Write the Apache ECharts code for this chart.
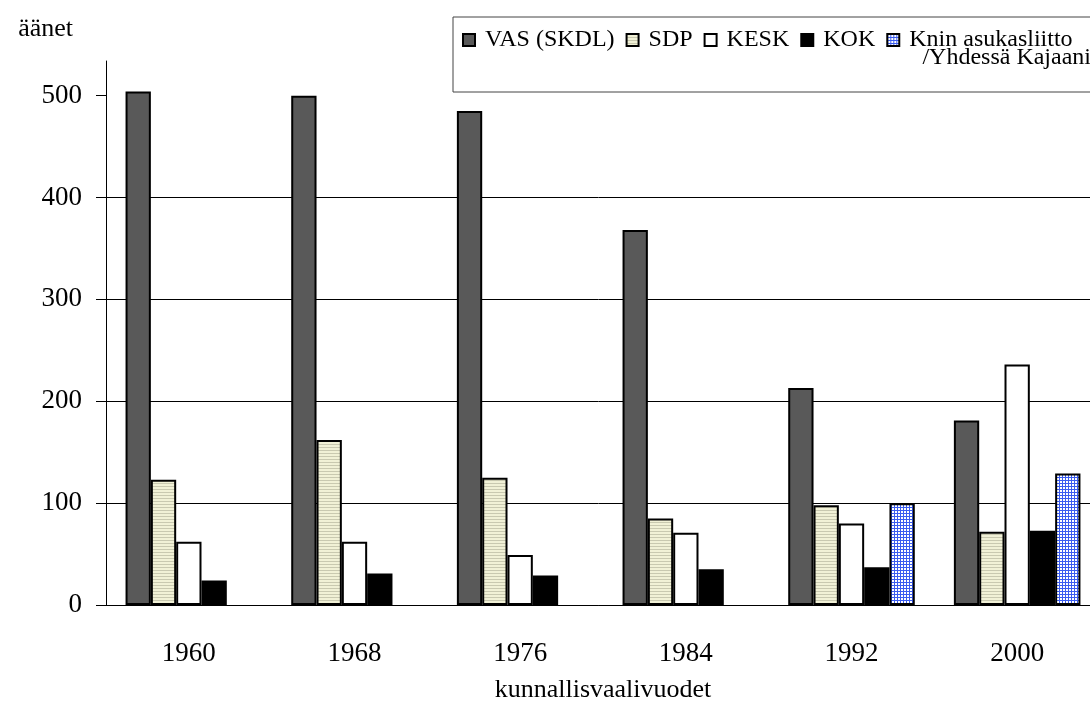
<!DOCTYPE html>
<html>
<head>
<meta charset="utf-8">
<script src="https://cdn.jsdelivr.net/npm/echarts@6/dist/echarts.min.js"></script>
<style>
  html, body { margin: 0; padding: 0; background: #fff; }
  #chart { width: 1090px; height: 706px; }
</style>
</head>
<body>
<div id="chart"></div>
<script>
const years = ['1960', '1968', '1976', '1984', '1992', '2000'];
const vas = [504, 500, 485, 368, 213, 181];
const sdp = [123, 162, 125, 85, 98, 72];
const kesk = [62, 62, 49, 71, 80, 236];
const kok = [24, 31, 29, 35, 37, 73];
const knin = [null, null, null, null, 100, 129];
const yTicks = [0, 100, 200, 300, 400, 500];

// small canvas fills for the patterned bars
function makePattern(w, h, draw) {
  const c = document.createElement('canvas');
  c.width = w; c.height = h;
  draw(c.getContext('2d'));
  return { image: c, repeat: 'repeat' };
}
const stripes = makePattern(4, 3, ctx => {
  ctx.fillStyle = '#f1f1d6'; ctx.fillRect(0, 0, 4, 3);
  ctx.fillStyle = '#c9c9b0'; ctx.fillRect(0, 0, 4, 1);
});
const blueGrid = makePattern(3, 3, ctx => {
  ctx.fillStyle = '#ffffff'; ctx.fillRect(0, 0, 3, 3);
  ctx.fillStyle = '#3a5cf0'; ctx.fillRect(0, 0, 3, 1); ctx.fillRect(0, 0, 1, 3);
});

const serif = 'Liberation Serif';
const chart = echarts.init(document.getElementById('chart'));

function bar(name, data, color) {
  return {
    name, type: 'bar', data,
    barGap: '0%', barCategoryGap: '23.6%',
    itemStyle: { color, borderColor: '#000', borderWidth: 2 },
    emphasis: { disabled: true }
  };
}

chart.setOption({
  animation: false,
  textStyle: { fontFamily: serif, color: '#000' },
  grid: { left: 106, top: 61, width: 994, height: 544, containLabel: false, outerBoundsMode: 'none' },
  graphic: [
    { type: 'rect', z: 50, shape: { x: 453, y: 17, width: 700, height: 75 },
      style: { fill: '#fff', stroke: '#444', lineWidth: 1 } },
    { type: 'text', z: 60, x: 1091, y: 58,
      style: { text: '/Yhdessä Kajaani', font: '24px "Liberation Serif"', fill: '#000',
        align: 'right', verticalAlign: 'middle' } }
  ],
  legend: {
    z: 60, left: 462, top: 28, width: 900, icon: 'rect', itemWidth: 12, itemHeight: 12, itemGap: 11,
    padding: 0,
    textStyle: { fontFamily: serif, fontSize: 24, color: '#000', padding: [0, 0, 0, 5] },
    data: ['VAS (SKDL)', 'SDP', 'KESK', 'KOK', 'Knin asukasliitto']
  },
  xAxis: {
    type: 'category', data: years,
    name: 'kunnallisvaalivuodet', nameLocation: 'middle', nameGap: 72,
    nameTextStyle: { fontFamily: serif, fontSize: 26, color: '#000' },
    axisLine: { lineStyle: { color: '#000', width: 1 } },
    axisTick: { length: 10, lineStyle: { color: '#000' } },
    axisLabel: { margin: 35, fontFamily: serif, fontSize: 27, color: '#000' }
  },
  yAxis: {
    type: 'value', min: 0, max: 534, interval: 100,
    name: 'äänet', nameLocation: 'end', nameGap: 19,
    nameTextStyle: { fontFamily: serif, fontSize: 26, color: '#000',
      align: 'right', padding: [0, 33, 0, 0] },
    axisLine: { show: true, lineStyle: { color: '#000', width: 1 } },
    axisTick: { show: true, inside: false, length: 10, customValues: yTicks, lineStyle: { color: '#000' } },
    splitLine: { showMaxLine: false, lineStyle: { color: '#000', width: 1 } },
    axisLabel: { margin: 24, customValues: yTicks, fontFamily: serif, fontSize: 27, color: '#000' }
  },
  series: [
    bar('VAS (SKDL)', vas, '#595959'),
    bar('SDP', sdp, stripes),
    bar('KESK', kesk, '#ffffff'),
    bar('KOK', kok, '#000000'),
    bar('Knin asukasliitto', knin, blueGrid)
  ]
});
</script>
</body>
</html>
